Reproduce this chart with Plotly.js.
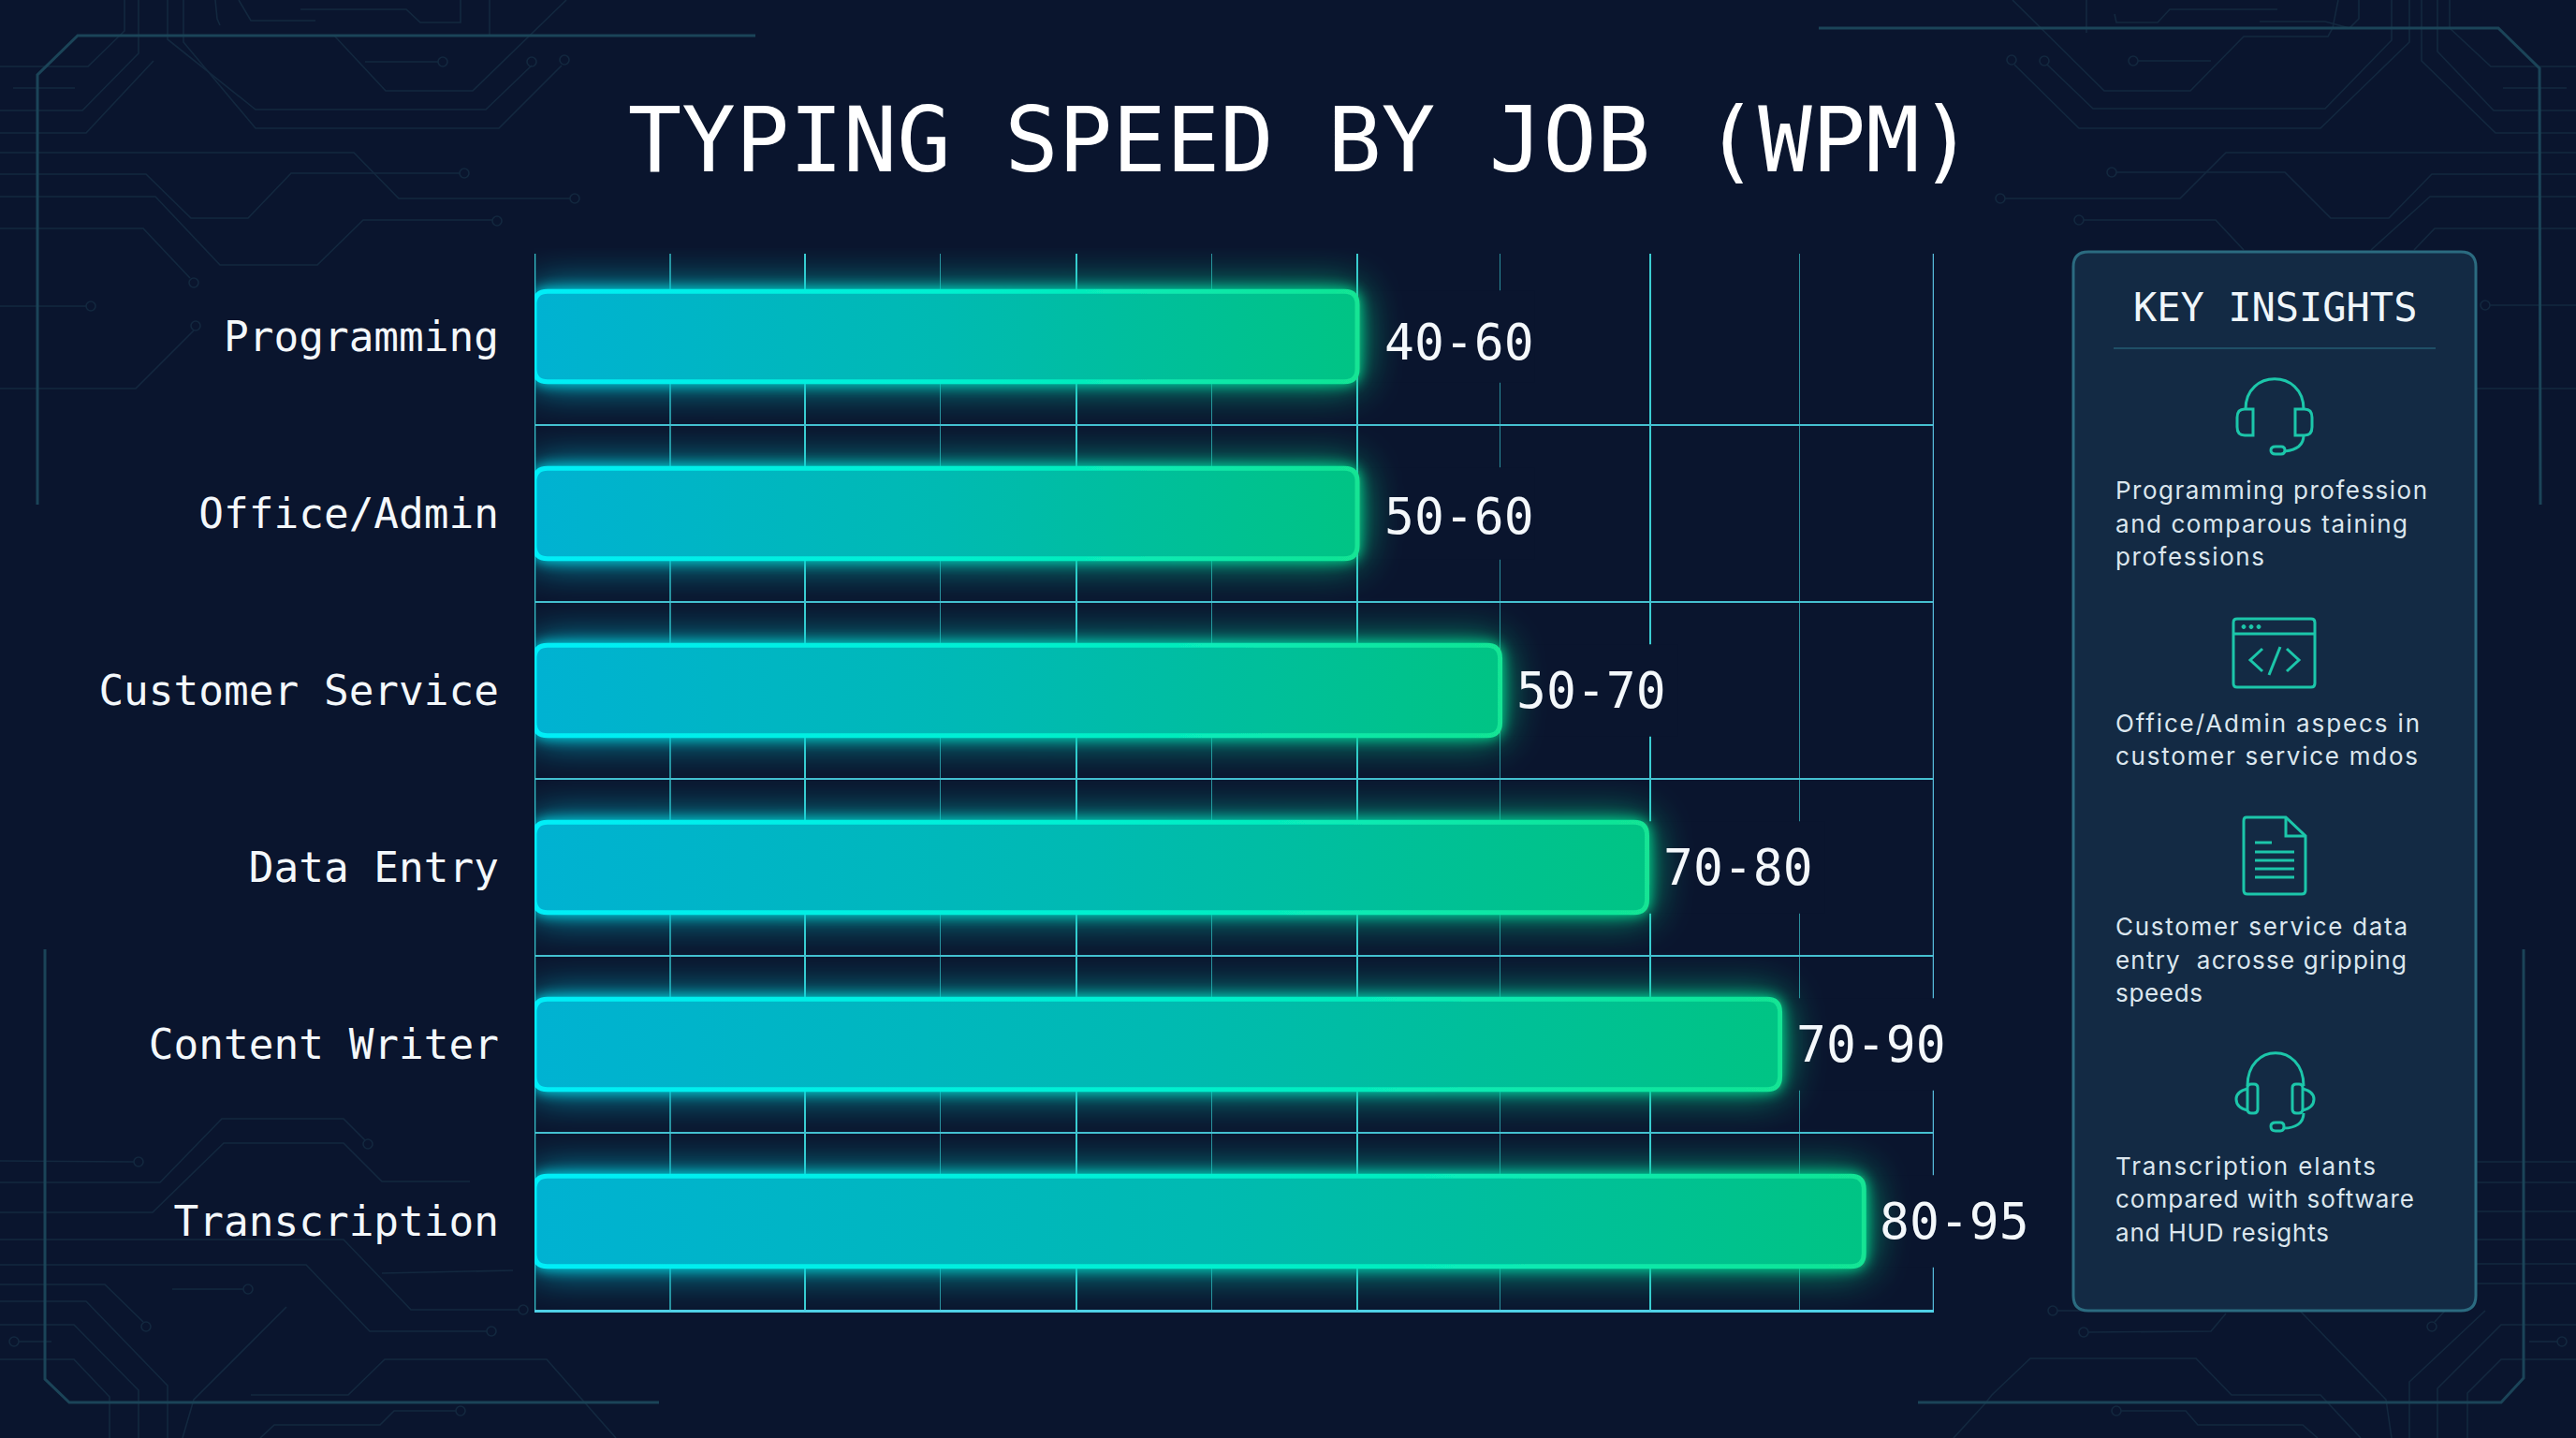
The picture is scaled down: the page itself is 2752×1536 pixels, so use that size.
<!DOCTYPE html>
<html>
<head>
<meta charset="utf-8">
<script src="https://cdn.plot.ly/plotly-3.0.1.min.js"></script>
<style>
html,body{margin:0;padding:0;background:#0a152e;}
#chart{width:2752px;height:1536px;}
</style>
</head>
<body>
<div id="chart"></div>
<script>
// ---------- chart data ----------
const categories = ["Programming","Office/Admin","Customer Service","Data Entry","Content Writer","Transcription"];
const barEnds = [58.8,58.8,69,79.5,89,95];
const rangeLabels = ["40-60","50-60","50-70","70-80","70-90","80-95"];
const majorGrid = [19.3,38.7,58.8,79.7];
const minorGrid = [9.7,29,48.4,69,90.4];
const axisEnd = 100;

// ---------- panel text ----------
const panelTitle = "KEY INSIGHTS";
const insightLines = ["Programming profession","and comparous taining","professions",
  "Office/Admin aspecs in","customer service mdos",
  "Customer service data","entry  acrosse gripping","speeds",
  "Transcription elants","compared with software","and HUD resights"];
const insightRows = [523,559,594,772,807,989,1025,1060,1245,1280,1316];
const insightWidths = [333,312,159,325,323,312,311,93,278,319,228];

// ---------- page geometry ----------
const W=2752,H=1536,L=571,R=2066,T=265,B=1399,BG='#0a152e';
const px=x=>(x-L)/(R-L), py=y=>(B-y)/(B-T);
const conv=s=>s.replace(/(-?[\d.]+),(-?[\d.]+)/g,(m,a,b)=>px(+a).toFixed(5)+','+py(+b).toFixed(5));

// ---------- decorative circuit traces ----------
const frameTraces=[
 "M40,539 L40,80 L83,38 L807,38","M48,1014 L48,1473 L74,1498 L704,1498",
 "M1943,30 L2669,30 L2713,73 L2714,539","M2696,1014 L2696,1472 L2672,1498 L2049,1498"];
const circuitTraces=[
 "M0,71 L94,71 L133,33 L133,0","M0,118 L88,118 L148,57 L148,0","M0,142 L92,142 L164,65","M14,94 L80,94",
 "M179,0 L179,42 L273,117 L519,117 L568,70","M196,0 L196,45 L273,137 L533,137 L600,70",
 "M357,38 L412,97 L505,97 L605,0","M390,66 L468,66","M230,0 L232,20 L235,27","M255,0 L268,22 L337,22",
 "M321,10 L434,10 L449,24 L492,24 L492,0","M523,0 L523,38",
 "M0,163 L378,163 L426,212 L609,212","M0,186 L156,186 L204,233 L265,233 L311,185 L491,185",
 "M0,210 L166,210 L235,283 L339,283 L388,235 L526,235","M0,244 L153,244 L203,297","M0,327 L92,327","M0,415 L145,415 L207,353",
 "M2150,0 L2248,97 L2340,97 L2397,39 L2487,39 L2492,30 L2498,0","M2152,69 L2221,137 L2479,137 L2574,45 L2574,0",
 "M2187,69 L2236,116 L2484,116 L2555,43 L2555,0","M2284,65 L2362,65","M2229,0 L2229,35",
 "M2259,15 L2261,24 L2305,24 L2318,10 L2433,10","M2414,23 L2484,23 L2510,30 L2520,20 L2520,0",
 "M2587,0 L2587,65 L2666,142 L2752,142","M2604,0 L2604,55 L2664,118 L2752,118","M2617,0 L2617,30 L2661,71 L2752,71","M2674,94 L2742,94",
 "M2752,163 L2378,163 L2329,212 L2142,212","M2261,184 L2441,184 L2490,233 L2552,233 L2598,186 L2752,186",
 "M2226,235 L2367,235 L2397,267","M2533,267 L2596,210 L2752,210","M2579,267 L2601,244 L2752,244",
 "M2660,326 L2752,326","M2645,415 L2752,415",
 "M2645,1241 L2752,1241","M2645,1263 L2752,1263","M2645,1294 L2752,1294","M2645,1324 L2752,1324","M2645,1350 L2752,1350","M2645,1371 L2752,1371",
 "M2198,1400 L2223,1400","M2231,1423 L2362,1422 L2378,1403","M2601,1412 L2612,1400",
 "M2087,1536 L2120,1500 L2128,1490 L2169,1451 L2346,1451 L2384,1490 L2479,1490 L2522,1536",
 "M2266,1507 L2335,1507 L2348,1522 L2460,1522 L2476,1536","M2457,1400 L2549,1495 L2555,1536",
 "M2655,1400 L2574,1476 L2574,1536","M2752,1415 L2672,1415 L2604,1483 L2604,1536","M2752,1452 L2672,1452 L2636,1488 L2636,1536","M2732,1433 L2702,1433",
 "M0,1240 L143,1241","M0,1263 L171,1263 L237,1195 L367,1195 L390,1218","M0,1295 L163,1295 L239,1221 L367,1221 L408,1262 L502,1262",
 "M0,1324 L367,1324 L439,1399 L555,1399","M0,1351 L327,1351 L395,1422 L520,1422","M184,1377 L260,1377","M0,1372 L112,1372 L153,1412",
 "M0,1390 L92,1390 L179,1480 L179,1536","M0,1415 L79,1415 L148,1485 L148,1536","M0,1452 L79,1452 L117,1492 L117,1536","M20,1433 L55,1433",
 "M306,1396 L207,1495 L195,1536","M268,1490 L372,1490 L411,1452 L584,1452 L658,1536",
 "M487,1507 L421,1507 L406,1522 L293,1522 L278,1536","M408,1360 L548,1357"];
const circuitPads=[[568,66],[603,64],[473,66],[614,212],[496,185],[531,236],[207,302],[97,327],[209,348],
 [2149,64],[2184,65],[2279,65],[2137,212],[2256,184],[2221,235],[2655,326],
 [2193,1400],[2226,1423],[2598,1417],[2261,1507],[2737,1433],
 [148,1241],[393,1222],[559,1399],[525,1422],[265,1377],[156,1417],[15,1433],[492,1507]];

// ---------- panel icons ----------
const iconStrokes=[
 "M2399,437 C2399,394 2461,394 2461,437",
 "M2407,437 L2398,437 Q2390,437 2390,446 L2390,456 Q2390,465 2398,465 L2407,465 Z",
 "M2452,437 L2462,437 Q2470,437 2470,446 L2470,456 Q2470,465 2462,465 L2452,465 Z",
 "M2461,465 C2461,478 2450,481 2441,482",
 "M2431,477 L2437,477 Q2441,477 2441,481 Q2441,485 2437,485 L2431,485 Q2426,485 2426,481 Q2426,477 2431,477 Z",
 "M2390,661 L2469,661 Q2473,661 2473,665 L2473,730 Q2473,734 2469,734 L2390,734 Q2386,734 2386,730 L2386,665 Q2386,661 2390,661 Z",
 "M2386,677 L2473,677","M2417,693 L2404,705 L2417,717","M2436,691 L2424,721","M2443,693 L2456,705 L2443,717",
 "M2400,873 L2442,873 L2463,893 L2463,951 Q2463,955 2459,955 L2401,955 Q2397,955 2397,951 L2397,877 Q2397,873 2400,873 Z",
 "M2442,873 L2442,893 L2463,893","M2409,900 L2427,900","M2409,910 L2451,910","M2409,919 L2451,919","M2409,928 L2451,928","M2409,937 L2451,937",
 "M2401,1160 C2401,1113 2461,1113 2461,1160",
 "M2405,1158 L2408,1158 Q2412,1158 2412,1162 L2412,1185 Q2412,1189 2408,1189 L2405,1189 Q2401,1189 2401,1185 L2401,1162 Q2401,1158 2405,1158 Z",
 "M2453,1158 L2456,1158 Q2460,1158 2460,1162 L2460,1185 Q2460,1189 2456,1189 L2453,1189 Q2449,1189 2449,1185 L2449,1162 Q2449,1158 2453,1158 Z",
 "M2401,1163 Q2389,1166 2389,1174 Q2389,1183 2401,1186","M2460,1163 Q2472,1166 2472,1174 Q2472,1183 2460,1186",
 "M2461,1189 C2461,1200 2452,1205 2440,1205",
 "M2431,1199 L2436,1199 Q2440,1199 2440,1203 Q2440,1208 2436,1208 L2431,1208 Q2426,1208 2426,1203 Q2426,1199 2431,1199 Z"];
const iconDots=[[2397,669.5],[2405,669.5],[2413,669.5]];

const pathShape=(d,color,width,fill)=>({type:'path',xref:'paper',yref:'paper',layer:'below',path:conv(d),
  line:{color:color,width:width},fillcolor:fill||'rgba(0,0,0,0)'});
const ringShape=(c,r,color,width,fill)=>({type:'circle',xref:'paper',yref:'paper',layer:'below',
  x0:px(c[0]-r),x1:px(c[0]+r),y0:py(c[1]+r),y1:py(c[1]-r),line:{color:color,width:width},fillcolor:fill||'rgba(0,0,0,0)'});

const shapes=[];
circuitTraces.forEach(d=>shapes.push(pathShape(d,'#13283f',1.6)));
circuitPads.forEach(c=>shapes.push(ringShape(c,5,'#13283f',1.6)));
frameTraces.forEach(d=>shapes.push(pathShape(d,'#1b4458',3)));
// insight panel
shapes.push(pathShape("M2231,269 L2629,269 Q2645,269 2645,285 L2645,1384 Q2645,1400 2629,1400 L2231,1400 Q2215,1400 2215,1384 L2215,285 Q2215,269 2231,269 Z",'#2b6b80',3,'#132a44'));
shapes.push(pathShape("M2258,372 L2602,372",'#1f4f66',2));
iconStrokes.forEach(d=>shapes.push(pathShape(d,'#1cc6aa',3)));
iconDots.forEach(c=>shapes.push(ringShape(c,2,'#1cc6aa',1,'#1cc6aa')));
// trims the grid tops just above the first band
const gridTop=-0.468;
shapes.push({type:'rect',xref:'x',yref:'y',layer:'between',x0:0,x1:axisEnd,y0:-0.5,y1:gridTop,line:{width:0},fillcolor:BG});
// both ends of the value axis: left rule and the right end the grid omits at the range edge
shapes.push({type:'line',xref:'x',yref:'y',layer:'between',x0:0,x1:0,y0:gridTop,y1:5.5,line:{color:'#38c4cc',width:2.5}});
shapes.push({type:'line',xref:'x',yref:'y',layer:'between',x0:axisEnd,x1:axisEnd,y0:gridTop,y1:5.5,line:{color:'#55b8d8',width:2.5}});
// value-label backing that interrupts the grid behind each label
barEnds.forEach((v,i)=>shapes.push({type:'rect',xref:'x',yref:'y',layer:'between',x0:v+0.15,x1:v+12.7,y0:i-0.26,y1:i+0.26,
  line:{width:0},fillcolor:BG}));

const labelLift=[-6,-3,0,0,0,0];
const annotations=[];
rangeLabels.forEach((t,i)=>annotations.push({xref:'x',yref:'y',x:barEnds[i],y:categories[i],text:t,showarrow:false,
  xanchor:'left',yanchor:'middle',xshift:i<2?27:15,yshift:labelLift[i],font:{family:'DejaVu Sans Mono',size:53,color:'#f4f8fb'}}));
annotations.push({xref:'paper',yref:'paper',x:px(2430),y:py(328),text:panelTitle,showarrow:false,xanchor:'center',yanchor:'middle',
  font:{family:'DejaVu Sans Mono',size:42,color:'#f0f6fa'}});
insightLines.forEach((t,i)=>annotations.push({xref:'paper',yref:'paper',x:px(2258),y:py(insightRows[i]),text:t,showarrow:false,
  xanchor:'left',yanchor:'middle',font:{family:'Inter',size:26,color:'#dbe6ee'}}));

const trace={type:'bar',orientation:'h',y:categories,x:barEnds,width:0.51,cliponaxis:false,hoverinfo:'skip',
  marker:{color:'#00bdb0',line:{color:'#00eedd',width:5}}};

const layout={
  width:W,height:H,paper_bgcolor:BG,plot_bgcolor:'rgba(0,0,0,0)',showlegend:false,
  margin:{l:L,r:W-R,t:T,b:H-B,pad:0},
  title:{text:'TYPING SPEED BY JOB (WPM)',font:{family:'DejaVu Sans Mono',size:95.5,color:'#ffffff'},
    xref:'paper',x:px(1389.5),xanchor:'center',yref:'container',y:1-150/H,yanchor:'middle'},
  xaxis:{range:[0,axisEnd],fixedrange:true,tickmode:'array',tickvals:majorGrid,showticklabels:false,ticks:'',zeroline:false,
    showgrid:true,gridcolor:'#3ccdd2',gridwidth:2,showline:true,linecolor:'#4fd0e6',linewidth:3,
    minor:{tickmode:'array',tickvals:minorGrid,showgrid:true,gridcolor:'#2a8f9c',gridwidth:1.5,ticks:''}},
  yaxis:{type:'category',categoryorder:'array',categoryarray:categories,range:[5.5,-0.5],fixedrange:true,tickson:'boundaries',
    ticks:'',ticklabelstandoff:37,showgrid:true,gridcolor:'#45c0d0',gridwidth:2,zeroline:false,showline:false,
    tickfont:{family:'DejaVu Sans Mono',size:44.4,color:'#f4f8fb'}},
  shapes:shapes,annotations:annotations
};

Plotly.newPlot('chart',[trace],layout,{displayModeBar:false,staticPlot:true}).then(gd=>{
  const svg=gd.querySelector('.main-svg');
  const NS='http://www.w3.org/2000/svg';
  const defs=document.createElementNS(NS,'defs');
  defs.innerHTML=`
   <linearGradient id="barFill" x1="0" x2="1" y1="0" y2="0"><stop offset="0" stop-color="#00b2d2"/><stop offset="0.5" stop-color="#00bab2"/><stop offset="1" stop-color="#00c484"/></linearGradient>
   <linearGradient id="barEdge" x1="0" x2="1" y1="0" y2="0"><stop offset="0" stop-color="#00eef8"/><stop offset="0.5" stop-color="#00f0d0"/><stop offset="1" stop-color="#12e494"/></linearGradient>
   <filter id="barGlow" x="-10%" y="-90%" width="120%" height="280%">
     <feGaussianBlur in="SourceGraphic" stdDeviation="7" result="a"/>
     <feGaussianBlur in="SourceGraphic" stdDeviation="22" result="b"/>
     <feComponentTransfer in="b" result="c"><feFuncA type="linear" slope="0.9"/></feComponentTransfer>
     <feMerge><feMergeNode in="c"/><feMergeNode in="a"/><feMergeNode in="SourceGraphic"/></feMerge>
   </filter>`;
  svg.insertBefore(defs,svg.firstChild);
  // rebuild each bar outline from the box the library computed, rounded at both ends
  const r=14;
  gd.querySelectorAll('.barlayer .point path').forEach(p=>{
    const b=p.getBBox(),x=b.x,y=b.y,w=b.width,h=b.height;
    p.setAttribute('d',`M${x+r},${y}H${x+w-r}Q${x+w},${y} ${x+w},${y+r}V${y+h-r}Q${x+w},${y+h} ${x+w-r},${y+h}H${x+r}Q${x},${y+h} ${x},${y+h-r}V${y+r}Q${x},${y} ${x+r},${y}Z`);
    p.style.fill='url(#barFill)';p.style.stroke='url(#barEdge)';p.setAttribute('filter','url(#barGlow)');
  });
  // fit each panel line to the width it has in the reference, keeping its left edge
  gd.querySelectorAll('.annotation-text-g text').forEach(t=>{
    const i=insightLines.indexOf(t.textContent);
    if(i<0) return;
    const left=t.getBBox().x;
    t.style.textAnchor='start';
    t.setAttribute('text-anchor','start');
    t.setAttribute('x',left);
    t.setAttribute('textLength',insightWidths[i]);
    t.setAttribute('lengthAdjust','spacing');
  });
});
</script>
</body>
</html>
